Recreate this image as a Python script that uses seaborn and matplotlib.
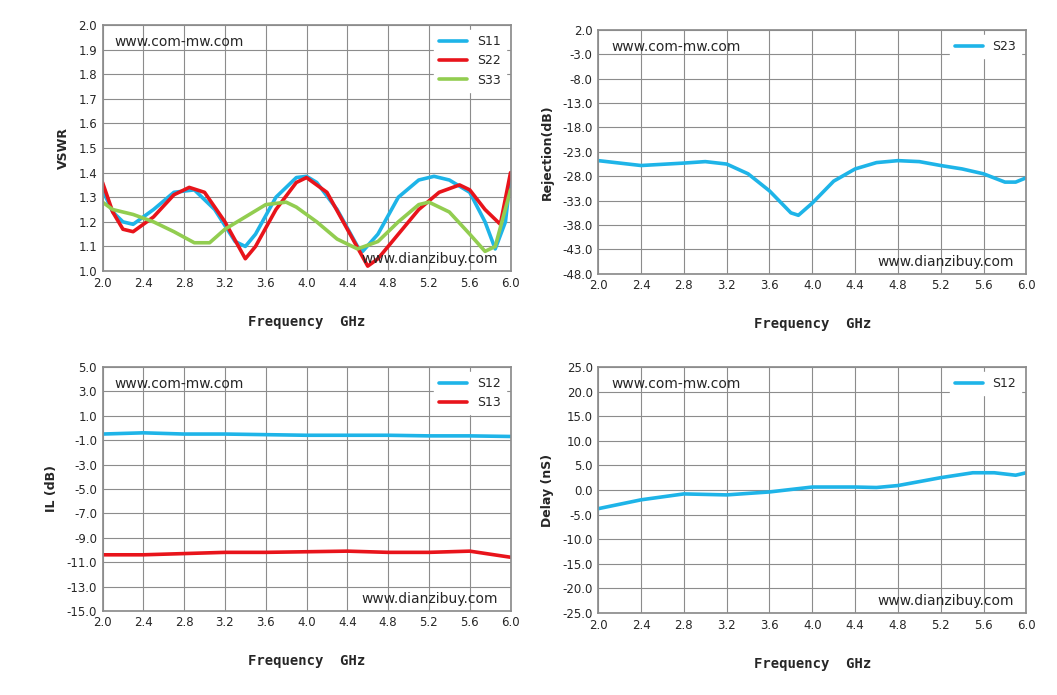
import matplotlib
matplotlib.use("Agg")
import matplotlib.pyplot as plt
import numpy as np
import seaborn as sns

sns.set_theme(style="white")
plt.rcParams["font.family"] = ["DejaVu Sans"]

BLUE, RED, GREEN = "#1EB4E8", "#E8141B", "#92CD50"

f_s11 = [2.0, 2.1, 2.2, 2.3, 2.5, 2.7, 2.9, 3.1, 3.3, 3.4, 3.5, 3.7, 3.9, 4.0, 4.1, 4.3, 4.5, 4.55, 4.7, 4.9, 5.1, 5.25, 5.4, 5.6, 5.75, 5.85, 5.95, 6.0]
s11 = [1.33, 1.24, 1.20, 1.19, 1.25, 1.32, 1.33, 1.25, 1.12, 1.10, 1.15, 1.30, 1.38, 1.385, 1.36, 1.25, 1.10, 1.08, 1.15, 1.30, 1.37, 1.385, 1.37, 1.32, 1.20, 1.09, 1.20, 1.38]
f_s22 = [2.0, 2.1, 2.2, 2.3, 2.5, 2.7, 2.85, 3.0, 3.2, 3.4, 3.5, 3.7, 3.9, 4.0, 4.2, 4.4, 4.6, 4.7, 4.9, 5.1, 5.3, 5.5, 5.6, 5.75, 5.9, 6.0]
s22 = [1.36, 1.24, 1.17, 1.16, 1.22, 1.31, 1.34, 1.32, 1.20, 1.05, 1.10, 1.25, 1.36, 1.38, 1.32, 1.17, 1.02, 1.05, 1.15, 1.25, 1.32, 1.35, 1.33, 1.25, 1.19, 1.40]
f_s33 = [2.0, 2.1, 2.3, 2.5, 2.7, 2.9, 3.05, 3.2, 3.4, 3.6, 3.8, 3.9, 4.1, 4.3, 4.5, 4.7, 4.9, 5.1, 5.2, 5.4, 5.6, 5.75, 5.85, 6.0]
s33 = [1.28, 1.25, 1.23, 1.20, 1.16, 1.115, 1.115, 1.17, 1.22, 1.27, 1.28, 1.26, 1.20, 1.13, 1.09, 1.12, 1.20, 1.27, 1.28, 1.24, 1.15, 1.08, 1.10, 1.33]

f_s23 = [2.0, 2.4, 2.8, 3.0, 3.2, 3.4, 3.6, 3.8, 3.87, 4.0, 4.2, 4.4, 4.6, 4.8, 5.0, 5.2, 5.4, 5.6, 5.8, 5.9, 6.0]
s23 = [-24.8, -25.8, -25.3, -25.0, -25.5, -27.5, -31.0, -35.5, -36.0, -33.5, -29.0, -26.5, -25.2, -24.8, -25.0, -25.8, -26.5, -27.5, -29.2, -29.2, -28.3]

f_il = [2.0, 2.4, 2.8, 3.2, 3.6, 4.0, 4.4, 4.8, 5.2, 5.6, 6.0]
il_s12 = [-0.5, -0.4, -0.5, -0.5, -0.55, -0.6, -0.6, -0.6, -0.65, -0.65, -0.7]
il_s13 = [-10.4, -10.4, -10.3, -10.2, -10.2, -10.15, -10.1, -10.2, -10.2, -10.1, -10.6]

f_dl = [2.0, 2.4, 2.8, 3.2, 3.6, 4.0, 4.4, 4.6, 4.8, 5.2, 5.5, 5.7, 5.9, 6.0]
delay = [-3.8, -2.0, -0.8, -1.0, -0.4, 0.6, 0.6, 0.5, 0.9, 2.5, 3.5, 3.5, 3.0, 3.5]

xticks = np.arange(2.0, 6.01, 0.4)

fig = plt.figure(figsize=(10.57, 6.95), dpi=100)
boxes = [(0.097, 0.610, 0.386, 0.354), (0.566, 0.606, 0.405, 0.351),
         (0.097, 0.121, 0.386, 0.351), (0.566, 0.118, 0.405, 0.354)]
axes = [fig.add_axes(b) for b in boxes]


def style(ax, ylim, step, ylabel, first):
    ax.set_xlim(2.0, 6.0)
    ax.set_ylim(*ylim)
    ax.set_xticks(xticks)
    ax.set_yticks(np.arange(first, ylim[1] + 1e-6, step))
    ax.xaxis.set_major_formatter(matplotlib.ticker.FormatStrFormatter("%.1f"))
    ax.yaxis.set_major_formatter(matplotlib.ticker.FormatStrFormatter("%.1f"))
    ax.grid(True, color="#8C8C8C", lw=0.8)
    ax.tick_params(labelsize=8.5, length=0, pad=4)
    for s in ax.spines.values():
        s.set_color("#8C8C8C")
    ax.set_xlabel("Frequency  GHz", fontsize=10, fontweight="bold",
                  family="DejaVu Sans Mono", labelpad=18)
    ax.set_ylabel(ylabel, fontsize=9, fontweight="bold", labelpad=6)
    ax.text(0.03, 0.96, "www.com-mw.com", transform=ax.transAxes, fontsize=10, va="top")
    ax.text(0.97, 0.02, "www.dianzibuy.com", transform=ax.transAxes, fontsize=10,
            ha="right", va="bottom")
    ax.legend(loc="upper right", fontsize=9, frameon=True, fancybox=False,
              framealpha=1, edgecolor="white", handlelength=2.2, borderaxespad=0.4)


ax = axes[0]
sns.lineplot(x=f_s11, y=s11, ax=ax, color=BLUE, lw=2.6, label="S11")
sns.lineplot(x=f_s22, y=s22, ax=ax, color=RED, lw=2.6, label="S22")
sns.lineplot(x=f_s33, y=s33, ax=ax, color=GREEN, lw=2.6, label="S33")
style(ax, (1.0, 2.0), 0.1, "VSWR", 1.0)

ax = axes[1]
sns.lineplot(x=f_s23, y=s23, ax=ax, color=BLUE, lw=2.6, label="S23")
style(ax, (-48.0, 2.0), 5.0, "Rejection(dB)", -48.0)

ax = axes[2]
sns.lineplot(x=f_il, y=il_s12, ax=ax, color=BLUE, lw=2.6, label="S12")
sns.lineplot(x=f_il, y=il_s13, ax=ax, color=RED, lw=2.6, label="S13")
style(ax, (-15.0, 5.0), 2.0, "IL (dB)", -15.0)

ax = axes[3]
sns.lineplot(x=f_dl, y=delay, ax=ax, color=BLUE, lw=2.6, label="S12")
style(ax, (-25.0, 25.0), 5.0, "Delay (nS)", -25.0)

fig.savefig("out.png", dpi=100)
